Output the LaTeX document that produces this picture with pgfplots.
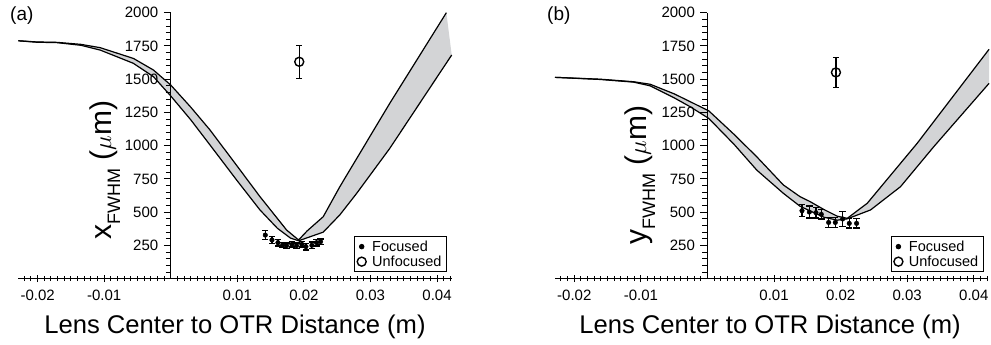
\documentclass[border=0pt]{standalone}
\usepackage{pgfplots}
\pgfplotsset{compat=1.18}
\usepackage{fontspec}
\setmainfont{Liberation Sans}
\definecolor{bandgray}{RGB}{211,212,214}

\pgfplotsset{panel/.style={
  width=433.4pt, height=266pt, scale only axis,
  xmin=-0.0229, xmax=0.0422, ymin=0, ymax=2000,
  enlargelimits=false, clip=false, axis on top,
  axis lines=middle, axis line style={-, line width=1.1pt},
  every inner x axis line/.append style={-},
  every inner y axis line/.append style={-},
  xtick={-0.02,-0.01,0.01,0.02,0.03,0.04},
  xticklabels={-0.02,-0.01,0.01,0.02,0.03,0.04},
  ytick={250,500,750,1000,1250,1500,1750,2000},
  yticklabels={250,500,750,1000,1250,1500,1750,2000},
  minor xtick={-0.022,-0.021,-0.020,-0.019,-0.018,-0.017,-0.016,-0.015,-0.014,-0.013,-0.012,-0.011,-0.010,-0.009,-0.008,-0.007,-0.006,-0.005,-0.004,-0.003,-0.002,-0.001,0.001,0.002,0.003,0.004,0.005,0.006,0.007,0.008,0.009,0.010,0.011,0.012,0.013,0.014,0.015,0.016,0.017,0.018,0.019,0.020,0.021,0.022,0.023,0.024,0.025,0.026,0.027,0.028,0.029,0.030,0.031,0.032,0.033,0.034,0.035,0.036,0.037,0.038,0.039,0.040,0.041,0.042},
  minor ytick={50,100,...,2000},
  xtick align=center, ytick align=outside,
  major tick length=7pt, minor tick length=5pt,
  every tick/.style={black, line width=1pt},
  ticklabel style={font=\fontsize{15}{17}\selectfont},
  yticklabel style={xshift=-2pt},
  xticklabel style={yshift=-4pt},
  scaled x ticks=false, scaled y ticks=false,
  legend style={at={(rel axis cs:0.989,0.025)}, anchor=south east,
    draw=black, line width=0.8pt, font=\fontsize{14.5}{16}\selectfont,
    inner xsep=3pt, inner ysep=2pt, row sep=-1pt,
    /tikz/every odd column/.append style={column sep=4pt}},
  legend cell align=left,
},
band/.style={fill=bandgray, draw=none, forget plot},
edge/.style={black, line width=1.2pt, forget plot, mark=none},
foc/.style={only marks, mark=*, mark size=2.3pt, black,
  error bars/.cd, y dir=both, y explicit,
  error bar style={line width=1.2pt, black},
  error mark options={rotate=90, mark size=3.2pt, line width=1.2pt, black}},
unfoc/.style={only marks, mark=o, mark size=4.5pt, black, mark options={line width=1.4pt},
  error bars/.cd, y dir=both, y explicit,
  error bar style={line width=1.2pt, black},
  error mark options={rotate=90, mark size=3pt, line width=1.2pt, black}},
}

\pgfplotstableread{
x y
-0.0229 1789
-0.0201 1780
-0.0171 1777
-0.0135 1762
-0.0106 1737
-0.0056 1656
-0.0026 1569
0 1456
0.0030 1290
0.0059 1118
0.0100 845
0.0134 617
0.0174 366
0.0192 291
0.0205 360
0.0229 466
0.0254 692
0.0329 1319
0.0414 2000
}\topA
\pgfplotstableread{
x y
-0.0229 1789
-0.0201 1778
-0.0171 1775
-0.0135 1755
-0.0106 1719
-0.0056 1619
-0.0026 1519
0 1374
0.0030 1195
0.0059 1005
0.0100 735
0.0134 517
0.0160 380
0.0180 305
0.0192 285
0.0229 350
0.0254 480
0.0279 640
0.0329 980
0.0422 1682
}\botA
\pgfplotstableread{
x y e
0.0142 328 35
0.0152 291 25
0.0161 271 25
0.0168 253 20
0.0174 248 20
0.0182 258 20
0.0189 248 20
0.0197 258 20
0.0203 241 25
0.0212 251 25
0.0219 271 25
0.0225 278 20
}\focA
\pgfplotstableread{
x y
-0.0229 1514
-0.0161 1500
-0.0111 1481
-0.0086 1462
-0.0050 1390
-0.0026 1331
0.0002 1262
0.0040 1085
0.0074 917
0.0114 705
0.0139 617
0.0154 580
0.0175 520
0.0195 470
0.0210 454
0.0240 567
0.0315 1018
0.0423 1725
}\topB
\pgfplotstableread{
x y
-0.0229 1514
-0.0161 1498
-0.0111 1478
-0.0086 1450
-0.0050 1360
-0.0026 1293
0.0002 1205
0.0040 1010
0.0074 817
0.0114 642
0.0139 545
0.0154 510
0.0175 462
0.0195 440
0.0210 450
0.0245 517
0.0290 692
0.0340 993
0.0423 1469
}\botB
\pgfplotstableread{
x y e
0.0142 511 45
0.0153 501 45
0.0163 496 40
0.0171 484 35
0.0182 423 40
0.0192 423 40
0.0203 449 55
0.0213 416 35
0.0224 416 35
}\focB

\begin{document}
\begin{tikzpicture}
\useasboundingbox (0pt,0pt) rectangle (991pt,-345pt);
% ---------- panel (a)
\begin{axis}[panel, at={(18.3pt,-278.7pt)}, anchor=south west]
\addplot[band] coordinates {
(-0.0229,1789) (-0.0201,1780) (-0.0171,1777) (-0.0135,1762) (-0.0106,1737) (-0.0056,1656) (-0.0026,1569) (0,1456) (0.0030,1290) (0.0059,1118) (0.0100,845) (0.0134,617) (0.0174,366) (0.0192,291) (0.0205,360) (0.0229,466) (0.0254,692) (0.0329,1319) (0.0414,2000)
(0.0422,1682) (0.0329,980) (0.0279,640) (0.0254,480) (0.0229,350) (0.0192,285) (0.0180,305) (0.0160,380) (0.0134,517) (0.0100,735) (0.0059,1005) (0.0030,1195) (0,1374) (-0.0026,1519) (-0.0056,1619) (-0.0106,1719) (-0.0135,1755) (-0.0171,1775) (-0.0201,1778) (-0.0229,1789)} -- cycle;
\addplot[edge] table[x=x,y=y] {\topA};
\addplot[edge] table[x=x,y=y] {\botA};
\addplot[foc] table[x=x,y=y,y error=e] {\focA};
\addlegendentry{Focused}
\addplot[unfoc] coordinates {(0.0193,1631) +- (0,125)};
\addlegendentry{Unfocused}
\end{axis}
% ---------- panel (b)
\begin{axis}[panel, at={(555pt,-278.7pt)}, anchor=south west]
\addplot[band] coordinates {
(-0.0229,1514) (-0.0161,1500) (-0.0111,1481) (-0.0086,1462) (-0.0050,1390) (-0.0026,1331) (0.0002,1262) (0.0040,1085) (0.0074,917) (0.0114,705) (0.0139,617) (0.0154,580) (0.0175,520) (0.0195,470) (0.0210,454) (0.0240,567) (0.0315,1018) (0.0423,1725)
(0.0423,1469) (0.0340,993) (0.0290,692) (0.0245,517) (0.0210,450) (0.0195,440) (0.0175,462) (0.0154,510) (0.0139,545) (0.0114,642) (0.0074,817) (0.0040,1010) (0.0002,1205) (-0.0026,1293) (-0.0050,1360) (-0.0086,1450) (-0.0111,1478) (-0.0161,1498) (-0.0229,1514)} -- cycle;
\addplot[edge] table[x=x,y=y] {\topB};
\addplot[edge] table[x=x,y=y] {\botB};
\addplot[foc] table[x=x,y=y,y error=e] {\focB};
\addlegendentry{Focused}
\addplot[unfoc] coordinates {(0.0193,1551) +- (0,115)};
\addlegendentry{Unfocused}
\end{axis}
% ---------- labels
\node[anchor=base west, inner sep=0pt, font=\fontsize{19}{21}\selectfont] at (10pt,-21pt) {(a)};
\node[anchor=base west, inner sep=0pt, font=\fontsize{19}{21}\selectfont] at (547pt,-21pt) {(b)};
\node[rotate=90, anchor=base, inner sep=0pt, font=\fontsize{30}{32}\selectfont] at (111pt,-170pt) {x\raisebox{-0.3em}{\fontsize{18}{20}\selectfont FWHM} ($\mu$m)};
\node[rotate=90, anchor=base, inner sep=0pt, font=\fontsize{30}{32}\selectfont] at (646pt,-175pt) {y\raisebox{-0.3em}{\fontsize{18}{20}\selectfont FWHM} ($\mu$m)};
\node[anchor=base, inner sep=0pt, font=\fontsize{25.6}{28}\selectfont] at (235pt,-333pt) {Lens Center to OTR Distance (m)};
\node[anchor=base, inner sep=0pt, font=\fontsize{25.6}{28}\selectfont] at (770pt,-333pt) {Lens Center to OTR Distance (m)};
\end{tikzpicture}
\end{document}
